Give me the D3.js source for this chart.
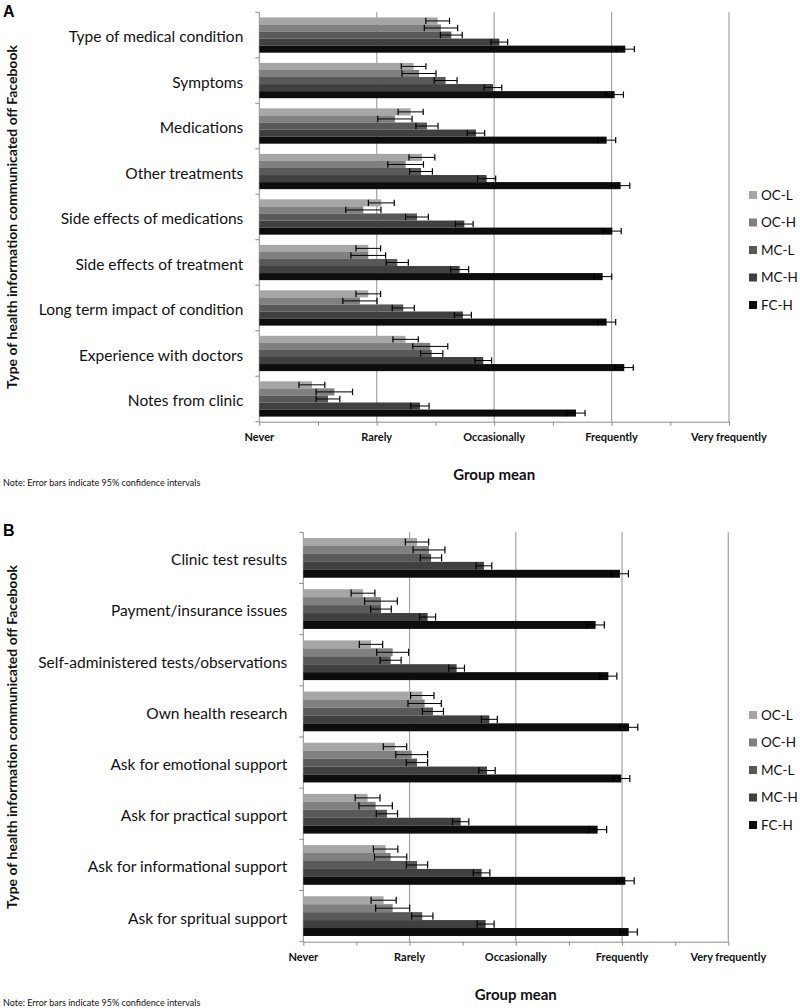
<!DOCTYPE html>
<html>
<head>
<meta charset="utf-8">
<script src="https://cdn.jsdelivr.net/npm/d3@7"></script>
<style>
  html, body { margin: 0; padding: 0; background: #fff; }
  svg { display: block; font-family: Lato, "Open Sans", sans-serif; }
</style>
</head>
<body>
<svg id="chart" width="800" height="1008"></svg>
<script>
// ---------- DATA ----------
const seriesNames = ["OC-L", "OC-H", "MC-L", "MC-H", "FC-H"];
const seriesColors = ["#a6a6a6", "#808080", "#595959", "#404040", "#0d0d0d"];
const tickLabels = ["Never", "Rarely", "Occasionally", "Frequently", "Very frequently"];

const categoriesA = ["Type of medical condition", "Symptoms", "Medications", "Other treatments",
  "Side effects of medications", "Side effects of treatment", "Long term impact of condition",
  "Experience with doctors", "Notes from clinic"];
const meanA_OCL = [1.519, 1.314, 1.289, 1.385, 1.039, 0.928, 0.928, 1.246, 0.448];
const meanA_OCH = [1.547, 1.360, 1.155, 1.246, 0.886, 0.928, 0.857, 1.456, 0.639];
const meanA_MCL = [1.635, 1.587, 1.428, 1.377, 1.343, 1.175, 1.226, 1.468, 0.585];
const meanA_MCH = [2.044, 1.990, 1.845, 1.936, 1.746, 1.706, 1.734, 1.907, 1.368];
const meanA_FCH = [3.117, 3.026, 2.958, 3.077, 3.006, 2.924, 2.958, 3.108, 2.697];
const ciA_OCL = [0.101, 0.105, 0.107, 0.110, 0.110, 0.105, 0.105, 0.108, 0.110];
const ciA_OCH = [0.142, 0.145, 0.146, 0.152, 0.150, 0.148, 0.146, 0.149, 0.155];
const ciA_MCL = [0.093, 0.097, 0.094, 0.097, 0.097, 0.094, 0.094, 0.095, 0.101];
const ciA_MCH = [0.071, 0.075, 0.074, 0.077, 0.075, 0.077, 0.072, 0.071, 0.078];
const ciA_FCH = [0.077, 0.075, 0.077, 0.078, 0.076, 0.077, 0.077, 0.077, 0.077];

const categoriesB = ["Clinic test results", "Payment/insurance issues", "Self-administered tests/observations",
  "Own health research", "Ask for emotional support", "Ask for practical support",
  "Ask for informational support", "Ask for spritual support"];
const meanB_OCL = [1.070, 0.562, 0.637, 1.120, 0.863, 0.605, 0.775, 0.756];
const meanB_OCH = [1.183, 0.731, 0.841, 1.142, 1.020, 0.681, 0.822, 0.841];
const meanB_MCL = [1.202, 0.731, 0.822, 1.220, 1.070, 0.787, 1.070, 1.120];
const meanB_MCH = [1.700, 1.170, 1.443, 1.751, 1.729, 1.481, 1.678, 1.716];
const meanB_FCH = [2.980, 2.751, 2.871, 3.065, 2.993, 2.770, 3.031, 3.062];
const ciB_OCL = [0.110, 0.112, 0.110, 0.110, 0.110, 0.117, 0.115, 0.118];
const ciB_OCH = [0.150, 0.154, 0.150, 0.157, 0.150, 0.157, 0.152, 0.160];
const ciB_MCL = [0.100, 0.097, 0.099, 0.099, 0.100, 0.100, 0.100, 0.100];
const ciB_MCH = [0.074, 0.075, 0.074, 0.075, 0.077, 0.077, 0.078, 0.080];
const ciB_FCH = [0.080, 0.082, 0.080, 0.083, 0.080, 0.085, 0.083, 0.082];

const yTitle = "Type of health information communicated off Facebook";
const xTitle = "Group mean";
const noteText = "Note: Error bars indicate 95% confidence intervals";

// ---------- DRAW ----------
const svg = d3.select("#chart");

function drawPanel(cfg) {
  const { letter, categories, means, cis, x0, x1, y0, y1 } = cfg;
  const g = svg.append("g");
  const x = d3.scaleLinear().domain([0, 4]).range([x0, x1]);
  const y = d3.scaleBand().domain(categories).range([y0, y1]).padding(0);
  const bw = y.bandwidth();
  const inner = d3.scaleBand().domain(seriesNames).range([bw * 0.112, bw * 0.888]).padding(0);
  const color = d3.scaleOrdinal().domain(seriesNames).range(seriesColors);

  // gridlines
  g.append("g").selectAll("line").data([1, 2, 3, 4]).join("line")
    .attr("x1", d => x(d)).attr("x2", d => x(d))
    .attr("y1", y0).attr("y2", y1)
    .attr("stroke", "#a3a3a3").attr("stroke-width", 1.2);

  // bottom axis
  const xAxis = d3.axisBottom(x)
    .tickValues(d3.range(0, 4.01, 0.5))
    .tickSize(4).tickFormat("");
  const xg = g.append("g").attr("transform", `translate(0,${y1})`).call(xAxis);
  xg.select(".domain").attr("stroke", "#8c8c8c").attr("d", `M${x0},0.5H${x1}`);
  xg.selectAll(".tick line").attr("stroke", "#8c8c8c");
  // tick labels
  g.append("g").selectAll("text").data(tickLabels).join("text")
    .attr("x", (d, i) => x(i)).attr("y", y1 + 19)
    .attr("text-anchor", "middle")
    .attr("font-size", 11).attr("font-weight", "bold").attr("fill", "#111")
    .text(d => d);

  // left axis (category boundaries)
  const boundaries = categories.map(c => y(c)).concat([y1]);
  g.append("line").attr("x1", x0).attr("x2", x0).attr("y1", y0).attr("y2", y1)
    .attr("stroke", "#8c8c8c");
  g.append("g").selectAll("line").data(boundaries).join("line")
    .attr("x1", x0 - 4).attr("x2", x0).attr("y1", d => d).attr("y2", d => d)
    .attr("stroke", "#8c8c8c");

  // category labels
  g.append("g").selectAll("text").data(categories).join("text")
    .attr("x", x0 - 16).attr("y", d => y(d) + bw / 2 + 2)
    .attr("dy", "0.35em").attr("text-anchor", "end")
    .attr("font-size", 15.5).attr("fill", "#111")
    .text(d => d);

  // bars + error bars
  seriesNames.forEach((s, si) => {
    const data = categories.map((c, ci) => ({ c, v: means[si][ci], e: cis[si][ci] }));
    const sg = g.append("g");
    sg.selectAll("rect").data(data).join("rect")
      .attr("x", x(0)).attr("y", d => y(d.c) + inner(s))
      .attr("width", d => x(d.v) - x(0))
      .attr("height", inner.bandwidth())
      .attr("fill", color(s));
    const eb = sg.selectAll("g.eb").data(data).join("g").attr("class", "eb");
    const cy = d => y(d.c) + inner(s) + inner.bandwidth() / 2;
    const cap = inner.bandwidth() * 0.45;
    eb.append("line")
      .attr("x1", d => x(d.v - d.e)).attr("x2", d => x(d.v + d.e))
      .attr("y1", cy).attr("y2", cy).attr("stroke", "#000").attr("stroke-width", 1);
    eb.append("line")
      .attr("x1", d => x(d.v - d.e)).attr("x2", d => x(d.v - d.e))
      .attr("y1", d => cy(d) - cap).attr("y2", d => cy(d) + cap).attr("stroke", "#000").attr("stroke-width", 1.2);
    eb.append("line")
      .attr("x1", d => x(d.v + d.e)).attr("x2", d => x(d.v + d.e))
      .attr("y1", d => cy(d) - cap).attr("y2", d => cy(d) + cap).attr("stroke", "#000").attr("stroke-width", 1.2);
  });

  // legend
  const midY = (y0 + y1) / 2 + 33;
  const lg = g.append("g").selectAll("g").data(seriesNames).join("g")
    .attr("transform", (d, i) => `translate(749,${midY + (i - 2) * 27.5})`);
  lg.append("rect").attr("x", 0).attr("y", -4).attr("width", 8).attr("height", 8)
    .attr("fill", d => color(d));
  lg.append("text").attr("x", 12).attr("y", 0).attr("dy", "0.36em")
    .attr("font-size", 13.5).attr("fill", "#111").text(d => d);

  // y title
  g.append("text")
    .attr("transform", `translate(17,${(y0 + y1) / 2}) rotate(-90)`)
    .attr("text-anchor", "middle")
    .attr("font-size", 14).attr("font-weight", "bold").attr("fill", "#111")
    .text(yTitle);

  // x title
  g.append("text").attr("x", x(2)).attr("y", y1 + 58)
    .attr("text-anchor", "middle")
    .attr("font-size", 15).attr("font-weight", "bold").attr("fill", "#111")
    .text(xTitle);

  // note
  g.append("text").attr("x", 3).attr("y", y1 + 64)
    .attr("font-size", 9).attr("fill", "#111")
    .text(noteText);

  // panel letter
  g.append("text").attr("x", 3).attr("y", cfg.letterY)
    .attr("font-size", 16).attr("font-weight", "bold").attr("fill", "#000")
    .attr("font-family", "'Liberation Sans', Arial, sans-serif")
    .text(letter);
}

drawPanel({
  letter: "A", letterY: 17,
  categories: categoriesA,
  means: [meanA_OCL, meanA_OCH, meanA_MCL, meanA_MCH, meanA_FCH],
  cis: [ciA_OCL, ciA_OCH, ciA_MCL, ciA_MCH, ciA_FCH],
  x0: 259.3, x1: 729, y0: 12.3, y1: 421.7
});

drawPanel({
  letter: "B", letterY: 536,
  categories: categoriesB,
  means: [meanB_OCL, meanB_OCH, meanB_MCL, meanB_MCH, meanB_FCH],
  cis: [ciB_OCL, ciB_OCH, ciB_MCL, ciB_MCH, ciB_FCH],
  x0: 303.3, x1: 728.3, y0: 532.3, y1: 941.7
});
</script>
</body>
</html>
